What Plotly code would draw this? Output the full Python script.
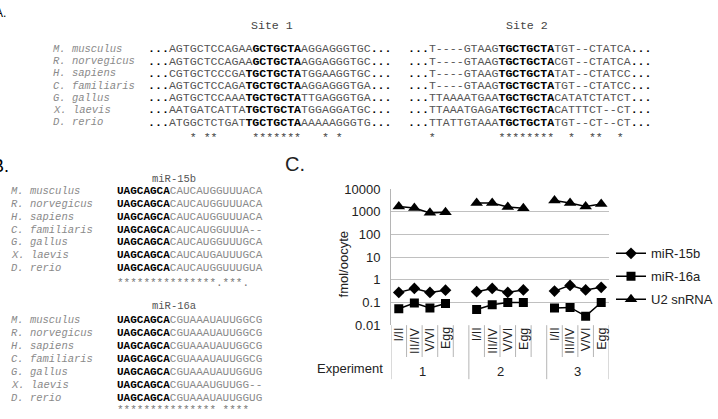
import plotly.graph_objects as go

W, H = 718, 419

# ---------------- Panel A data ----------------
species = ["M. musculus", "R. norvegicus", "H. sapiens", "C. familiaris",
           "G. gallus", "X. laevis", "D. rerio"]
site1_pre = ["AGTGCTCCAGAA", "AGTGCTCCAGAA", "CGTGCTCCCGA", "AGTGCTCCAGA",
             "AGTGCTCCAAA", "AATGATCATTA", "ATGGCTCTGAT"]
site1_motif = ["GCTGCTA", "GCTGCTA", "TGCTGCTA", "TGCTGCTA",
               "TGCTGCTA", "TGCTGCTA", "TGCTGCTA"]
site1_post = ["AGGAGGGTGC", "AGGAGGGTGC", "TGGAAGGTGC", "AGGAGGGTGA",
              "TTGAGGGTGA", "TGGAGGATGC", "AAAAAGGGTG"]
site1_cons = "      * **     *******   * *"
site2_pre = ["T----GTAAG", "T----GTAAG", "T----GTAAG", "T----GTAAG",
             "TTAAAATGAA", "TTAAATGAGA", "TTATTGTAAA"]
site2_motif = ["TGCTGCTA"] * 7
site2_post = ["TGT--CTATCA", "CGT--CTATCA", "TAT--CTATCC", "TGT--CTATCC",
              "CATATCTATCT", "CATTTCT--CT", "TGT--CT--CT"]
site2_cons = "   *         ********  *  **  *"

# ---------------- Panel B data ----------------
seed = "UAGCAGCA"
mir15b_rest = ["CAUCAUGGUUUACA", "CAUCAUGGUUUACA", "CAUCAUGGUUUACA", "CAUCAUGGUUUA--",
               "CAUCAUGGUUUGCA", "CAUCAUGAUUUGCA", "CAUCAUGGUUUGUA"]
mir15b_cons = "***************.***."
mir16a_rest = ["CGUAAAUAUUGGCG", "CGUAAAUAUUGGCG", "CGUAAAUAUUGGCG", "CGUAAAUAUUGGCG",
               "CGUAAAUAUUGGUG", "CGUAAAUGUUGG--", "CGUAAAUAUUGGUG"]
mir16a_cons = "*************** ****"

# ---------------- Panel C data ----------------
stages = ["I/II", "III/IV", "V/VI", "Egg"]
experiments = ["1", "2", "3"]
mir15b_vals = [0.28, 0.42, 0.28, 0.35, 0.30, 0.42, 0.28, 0.36, 0.32, 0.57, 0.36, 0.47]
mir16a_vals = [0.053, 0.095, 0.057, 0.091, 0.049, 0.080, 0.10, 0.10, 0.058, 0.061, 0.025, 0.10]
u2_vals = [1750, 1490, 905, 960, 2460, 2460, 1650, 1435, 3190, 2460, 1750, 2240]

MONO = "Liberation Mono"
SANS = "Liberation Sans"


def px(x):
    return x / W


def py(y):
    return 1 - y / H


def nb(s):
    return s.replace(" ", "\u00a0")


annotations = []


def ann(x, y, text, size, color="#000", family=MONO, xanchor="left",
        yanchor="middle", angle=0, xref="paper"):
    annotations.append(dict(
        x=x if xref != "paper" else px(x), y=py(y), xref=xref, yref="paper",
        text=text, showarrow=False, xanchor=xanchor, yanchor=yanchor,
        textangle=angle, borderpad=0, borderwidth=0,
        font=dict(family=family, size=size, color=color)))


SEQ_GRAY = "#555555"
NAME_GRAY = "#8a8a8a"

# ---- Panel A ----
ann(-5, 6, "A.", 12, family=SANS)
ann(272, 19, "Site 1", 11.6, color="#444", xanchor="center")
ann(527, 19, "Site 2", 11.6, color="#444", xanchor="center")
for i, sp in enumerate(species):
    yy = 43.5 + 12.65 * i
    ann(53, yy, "<i>" + nb(sp) + "</i>", 10.5, color=NAME_GRAY)
    t1 = ("<b>...</b><span style='color:%s'>%s</span><b>%s</b><span style='color:%s'>%s</span><b>...</b>"
          % (SEQ_GRAY, site1_pre[i], site1_motif[i], SEQ_GRAY, site1_post[i]))
    ann(148, yy, t1, 11.6)
    t2 = ("<b>...</b><span style='color:%s'>%s</span><b>%s</b><span style='color:%s'>%s</span><b>...</b>"
          % (SEQ_GRAY, site2_pre[i], site2_motif[i], SEQ_GRAY, site2_post[i]))
    ann(408, yy, t2, 11.6)
ann(148, 135, nb(site1_cons), 11.6, color="#444")
ann(408, 135, nb(site2_cons), 11.6, color="#444")

# ---- Panel B ----
ann(-8, 165, "B.", 18, family=SANS)
ann(174, 178, "miR-15b", 10.5, color="#555", xanchor="center")
for i, sp in enumerate(species):
    yy = 190.7 + 13.37 * i
    ann(11, yy, "<i>" + nb(sp) + "</i>", 10.5, color=NAME_GRAY)
    ann(117, yy, "<b>%s</b><span style='color:#8a8a8a'>%s</span>" % (seed, mir15b_rest[i]), 11)
ann(117, 286, nb(mir15b_cons), 11, color="#777")

ann(174, 310, "miR-16a", 10.5, color="#555", xanchor="center")
for i, sp in enumerate(species):
    yy = 324.3 + 13.45 * i
    ann(11, yy, "<i>" + nb(sp) + "</i>", 10.5, color=NAME_GRAY)
    ann(117, yy, "<b>%s</b><span style='color:#8a8a8a'>%s</span>" % (seed, mir16a_rest[i]), 11)
ann(117, 411.5, nb(mir16a_cons), 11, color="#777", yanchor="top")

# ---- Panel C ----
ann(285, 163, "C.", 20, family=SANS, color="#222")
ann(343, 267, "fmol/oocyte", 13, family=SANS, color="#222", xanchor="center", angle=-90)
ann(383, 375, "Experiment", 13, family=SANS, color="#222", xanchor="right")

n_st = len(stages)
slot = n_st + 1
for g, ex in enumerate(experiments):
    for j, st in enumerate(stages):
        annotations.append(dict(
            x=g * slot + j, y=py(332.5), xref="x", yref="paper", text=st,
            showarrow=False, xanchor="center", yanchor="top", textangle=-90,
            borderpad=0, borderwidth=0,
            font=dict(family=SANS, size=12.5, color="#222")))
    annotations.append(dict(
        x=g * slot + (n_st - 1) / 2, y=py(378), xref="x", yref="paper", text=ex,
        showarrow=False, xanchor="center", yanchor="middle",
        font=dict(family=SANS, size=13, color="#222")))

shapes = []
n_slots = slot * len(experiments) - 1
for k in range(n_slots + 1):
    xb = k - 0.5
    long_line = (k % slot == 0) or k == n_slots
    shapes.append(dict(type="line", xref="x", yref="paper", x0=xb, x1=xb,
                       y0=py(330), y1=py(386 if long_line else 363),
                       line=dict(color="#b5b5b5", width=1)))


def series_xy(vals):
    xs, ys = [], []
    for g in range(len(experiments)):
        for j in range(n_st):
            xs.append(g * slot + j)
            ys.append(vals[g * n_st + j])
        xs.append(None)
        ys.append(None)
    return xs, ys


fig = go.Figure()
for name, vals, sym, sz in [("miR-15b", mir15b_vals, "diamond", 9),
                            ("miR-16a", mir16a_vals, "square", 9),
                            ("U2 snRNA", u2_vals, "triangle-up", 11)]:
    xs, ys = series_xy(vals)
    fig.add_trace(go.Scatter(x=xs, y=ys, mode="lines+markers", name=name,
                             legendgroup=name, connectgaps=False,
                             line=dict(color="#000", width=1.5),
                             marker=dict(symbol=sym, size=sz, color="#000")))

fig.update_layout(
    width=W, height=H, margin=dict(l=0, r=0, t=0, b=0),
    paper_bgcolor="white", plot_bgcolor="white",
    showlegend=True,
    legend=dict(x=px(611), y=py(240), xanchor="left", yanchor="top",
                font=dict(family=SANS, size=13, color="#222"),
                tracegroupgap=3, bgcolor="rgba(0,0,0,0)"),
    xaxis=dict(domain=[px(391), px(609)], range=[-0.5, n_slots - 0.5],
               showticklabels=False, showgrid=False, zeroline=False,
               showline=False, ticks=""),
    yaxis=dict(domain=[py(330), py(189)], type="log", range=[-2, 4],
               tickvals=[0.01, 0.1, 1, 10, 100, 1000, 10000],
               ticktext=["0.01", "0.1", "1", "10", "100", "1000", "10000"],
               showgrid=True, gridcolor="#c0c0c0", gridwidth=1,
               showline=True, linecolor="#b5b5b5", linewidth=1,
               ticks="", ticklabelstandoff=7, zeroline=False,
               tickfont=dict(family=SANS, size=13, color="#222")),
    annotations=annotations, shapes=shapes,
)

fig.write_html("out.html")
